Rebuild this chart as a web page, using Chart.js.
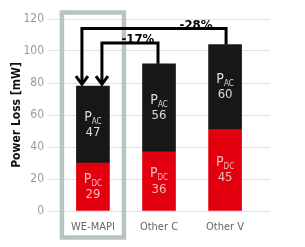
<!DOCTYPE html>
<html>
<head>
<meta charset="utf-8">
<script src="https://cdn.jsdelivr.net/npm/chart.js@4/dist/chart.umd.min.js"></script>
<style>
	html, body { margin: 0; padding: 0; background: #fff; }
	#wrap { width: 305px; height: 247px; }
</style>
</head>
<body>
<div id="wrap"><canvas id="chart"></canvas></div>
<script>
const categories = [ 'WE-MAPI', 'Other C', 'Other V' ];
// bar heights as drawn in the picture
const dcValues = [ 30, 37, 51 ];
const acValues = [ 48, 55, 53 ];
// numbers printed inside the bars
const dcLabels = [ '29', '36', '45' ];
const acLabels = [ '47', '56', '60' ];
const yTicks = [ 0, 20, 40, 60, 80, 100, 120 ];
const savings = [
	{ from: 0, to: 2, text: '-28%' },
	{ from: 0, to: 1, text: '-17%' }
];

( function () {
	'use strict';

	const RED = '#e2000f',
		BLACK = '#171717',
		FONT = '"DejaVu Sans Condensed", "Liberation Sans Narrow", "Liberation Sans", sans-serif';

	// where each bracket sits: level (y value), start offset px, end offset px, label centre (x value)
	const bracketStyle = [
		{ level: 114, startDx: -11, endDx: 1, labelAt: 1.56 },
		{ level: 105, startDx: 9, endDx: -1, labelAt: 0.68 }
	];

	const drawSub = ( ctx, x, y, main, sub, color ) => {
		ctx.fillStyle = color;
		ctx.font = '14px ' + FONT;
		const w1 = ctx.measureText( main ).width;
		ctx.font = '8px ' + FONT;
		const w2 = ctx.measureText( sub ).width;
		const left = x - ( w1 + w2 ) / 2;
		ctx.textAlign = 'left';
		ctx.textBaseline = 'alphabetic';
		ctx.font = '14px ' + FONT;
		ctx.fillText( main, left, y + 4 );
		ctx.font = '8px ' + FONT;
		ctx.fillText( sub, left + w1, y + 7 );
	};

	const overlay = {
		id: 'overlay',
		afterDraw( chart ) {
			const ctx = chart.ctx,
				xs = chart.scales.x,
				ys = chart.scales.y,
				dcMeta = chart.getDatasetMeta( 0 ),
				acMeta = chart.getDatasetMeta( 1 );
			ctx.save();

			// Highlight box round the first product
			const cx = xs.getPixelForValue( 0 );
			ctx.strokeStyle = '#b9c4c1';
			ctx.lineWidth = 4.5;
			ctx.strokeRect( cx - 31, 12.5, 62, 225 );

			// Labels inside bars
			categories.forEach( ( c, i ) => {
				const dc = dcMeta.data[ i ], ac = acMeta.data[ i ];
				const dcMid = ( dc.y + dc.base ) / 2, acMid = ( ac.y + ac.base ) / 2;
				drawSub( ctx, dc.x, dcMid - 8, 'P', 'DC', '#f6b9b9' );
				drawSub( ctx, ac.x, acMid - 8, 'P', 'AC', '#dcdcdc' );
				ctx.textAlign = 'center';
				ctx.textBaseline = 'middle';
				ctx.font = '13px ' + FONT;
				ctx.fillStyle = '#f6b9b9';
				ctx.fillText( dcLabels[ i ], dc.x, dcMid + 8 );
				ctx.fillStyle = '#dcdcdc';
				ctx.fillText( acLabels[ i ], ac.x, acMid + 8 );
			} );

			// Saving brackets with arrows
			ctx.strokeStyle = '#000';
			ctx.lineWidth = 3;
			ctx.lineJoin = 'miter';
			savings.forEach( ( s, k ) => {
				const st = bracketStyle[ k ];
				const x1 = xs.getPixelForValue( s.from ) + st.startDx,
					x2 = xs.getPixelForValue( s.to ) + st.endDx,
					yl = ys.getPixelForValue( st.level ),
					tip = acMeta.data[ s.from ].y - 2,
					yEnd = acMeta.data[ s.to ].y;
				ctx.beginPath();
				ctx.moveTo( x1, tip - 2 );
				ctx.lineTo( x1, yl );
				ctx.lineTo( x2, yl );
				ctx.lineTo( x2, yEnd );
				ctx.stroke();
				ctx.beginPath();
				ctx.moveTo( x1 - 6, tip - 8 );
				ctx.lineTo( x1, tip );
				ctx.lineTo( x1 + 6, tip - 8 );
				ctx.stroke();

				ctx.fillStyle = '#000';
				ctx.font = 'bold 13px ' + FONT;
				ctx.textAlign = 'center';
				ctx.textBaseline = 'alphabetic';
				ctx.fillText( s.text, xs.getPixelForValue( st.labelAt ), yl );
			} );
			ctx.restore();
		}
	};

	new Chart( document.getElementById( 'chart' ), {
		type: 'bar',
		data: {
			datasets: [
				{
					label: 'PDC',
					data: dcValues.map( ( v, i ) => ( { x: i, y: v } ) ),
					backgroundColor: RED,
					barThickness: 33
				},
				{
					label: 'PAC',
					data: acValues.map( ( v, i ) => ( { x: i, y: v } ) ),
					backgroundColor: BLACK,
					barThickness: 33
				}
			]
		},
		options: {
			animation: false,
			responsive: true,
			maintainAspectRatio: false,
			layout: { padding: { top: 19, right: 35, left: 0, bottom: 0 } },
			plugins: {
				legend: { display: false },
				tooltip: { enabled: false }
			},
			scales: {
				x: {
					type: 'linear',
					stacked: true,
					offset: false,
					min: -0.68,
					max: 2.68,
					grid: { display: false },
					border: { display: false },
					afterBuildTicks: ( scale ) => {
						scale.ticks = categories.map( ( c, i ) => ( { value: i } ) );
					},
					afterFit: ( scale ) => { scale.height = 36; },
					ticks: {
						callback: ( v ) => categories[ v ],
						color: '#666',
						font: { family: FONT, size: 11 },
						padding: 2,
						autoSkip: false,
						maxRotation: 0
					}
				},
				y: {
					stacked: true,
					min: 0,
					max: 120,
					afterBuildTicks: ( scale ) => {
						scale.ticks = yTicks.map( ( v ) => ( { value: v } ) );
					},
					afterFit: ( scale ) => { scale.width = 48; },
					grid: { color: '#e2e2e2', drawTicks: false },
					border: { display: false },
					ticks: {
						color: '#999',
						font: { family: FONT, size: 12 },
						padding: 4
					},
					title: {
						display: true,
						text: 'Power Loss [mW]',
						color: '#111',
						font: { family: FONT, size: 12, weight: 'bold' },
						padding: { top: 10, bottom: 0 }
					}
				}
			}
		},
		plugins: [ overlay ]
	} );
}() );
</script>
</body>
</html>
